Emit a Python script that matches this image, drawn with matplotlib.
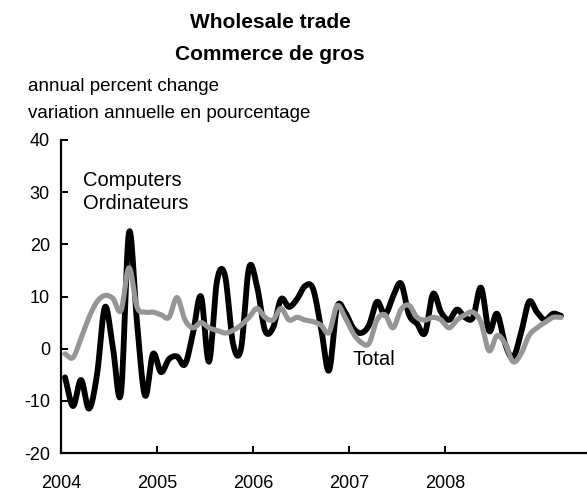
import numpy as np
import matplotlib
matplotlib.use("Agg")
import matplotlib.pyplot as plt

plt.rcParams['font.family'] = ['Liberation Sans', 'DejaVu Sans']
plt.rcParams['axes.unicode_minus'] = False

# monthly annual percent change, Jan 2004 onward
computers = [-5.5, -11, -6, -11.5, -5, 8, 0, -8.5, 22.3, 5,
             -9, -1, -4.5, -2, -1.5, -3, 3, 10, -2.5, 13,
             14, 1, 0, 15.5, 12, 3.5, 4, 9.5, 8, 9.5,
             12, 11.5, 4, -4.2, 7.9, 7, 4, 3, 4.5, 9,
             6.5, 10, 12.5, 6.5, 4.8, 3, 10.5, 7, 5.5, 7.5,
             6, 6, 11.7, 3.4, 6.7, 1, -1.7, 3, 9, 7,
             5.5, 6.7, 6.3]
total = [-1, -1.7, 2, 6, 9, 10.2, 9.6, 7.3, 15.5, 8,
         7, 7, 6.5, 6, 9.8, 5.5, 4, 5, 4, 3.5,
         3, 3.5, 4.5, 6, 7.7, 6, 5.5, 7.7, 5.5, 6,
         5.5, 5.2, 4.5, 3.1, 8.2, 6, 3, 1.2, 1, 5.5,
         6.5, 4, 7.5, 8.3, 6, 5.5, 6, 5.5, 4, 5.5,
         6.5, 7, 5, -0.4, 2.5, 1, -2.5, -1, 2.5, 4,
         5, 6, 6]
year_labels = ['2004', '2005', '2006', '2007', '2008']


def smooth(x, y, n=12):
    """Catmull-Rom curve through the points (like a spreadsheet smoothed line)."""
    x = np.asarray(x, float)
    y = np.asarray(y, float)
    px = np.concatenate([[2 * x[0] - x[1]], x, [2 * x[-1] - x[-2]]])
    py = np.concatenate([[2 * y[0] - y[1]], y, [2 * y[-1] - y[-2]]])
    t = np.linspace(0, 1, n, endpoint=False)
    xs, ys = [], []
    for i in range(1, len(px) - 2):
        for p, out in ((px, xs), (py, ys)):
            p0, p1, p2, p3 = p[i - 1], p[i], p[i + 1], p[i + 2]
            out.append(0.5 * (2 * p1 + (-p0 + p2) * t
                              + (2 * p0 - 5 * p1 + 4 * p2 - p3) * t ** 2
                              + (-p0 + 3 * p1 - 3 * p2 + p3) * t ** 3))
    xs.append([x[-1]])
    ys.append([y[-1]])
    return np.concatenate(xs), np.concatenate(ys)


months = np.arange(len(computers)) + 0.5

fig = plt.figure(figsize=(5.87, 4.92), dpi=100)
ax = fig.add_axes([61 / 587, 1 - 453 / 492, 1 - 61 / 587, (453 - 140) / 492])

ax.plot(*smooth(months, computers), color='black', lw=4.2, solid_capstyle='round')
ax.plot(*smooth(months, total), color='#969696', lw=3.7, solid_capstyle='round')

ax.set_xlim(0, (587 - 61) / 8)
ax.set_ylim(-20, 40)
ax.set_yticks(range(-20, 41, 10))
ax.set_xticks(range(0, 49, 12))
ax.set_xticklabels(year_labels)

for side in ('top', 'right'):
    ax.spines[side].set_visible(False)
for side in ('left', 'bottom'):
    ax.spines[side].set_linewidth(1.6)
ax.tick_params(axis='both', direction='in', length=5, width=1.4, labelsize=13)
ax.tick_params(axis='y', pad=8)
ax.tick_params(axis='x', pad=16)

ax.text(2.75, 30, 'Computers\nOrdinateurs', fontsize=14.5, va='center', ha='left',
        linespacing=1.25)
ax.text(36.4, -2, 'Total', fontsize=14.5, va='center', ha='left')

fig.text(270 / 587, 1 - 22 / 492, 'Wholesale trade', fontsize=15, fontweight='bold',
         ha='center', va='center')
fig.text(270 / 587, 1 - 55 / 492, 'Commerce de gros', fontsize=15, fontweight='bold',
         ha='center', va='center')
fig.text(28 / 587, 1 - 87 / 492, 'annual percent change', fontsize=13.5, ha='left', va='center')
fig.text(28 / 587, 1 - 114 / 492, 'variation annuelle en pourcentage', fontsize=13.5,
         ha='left', va='center')

fig.savefig('out.png', dpi=100)
